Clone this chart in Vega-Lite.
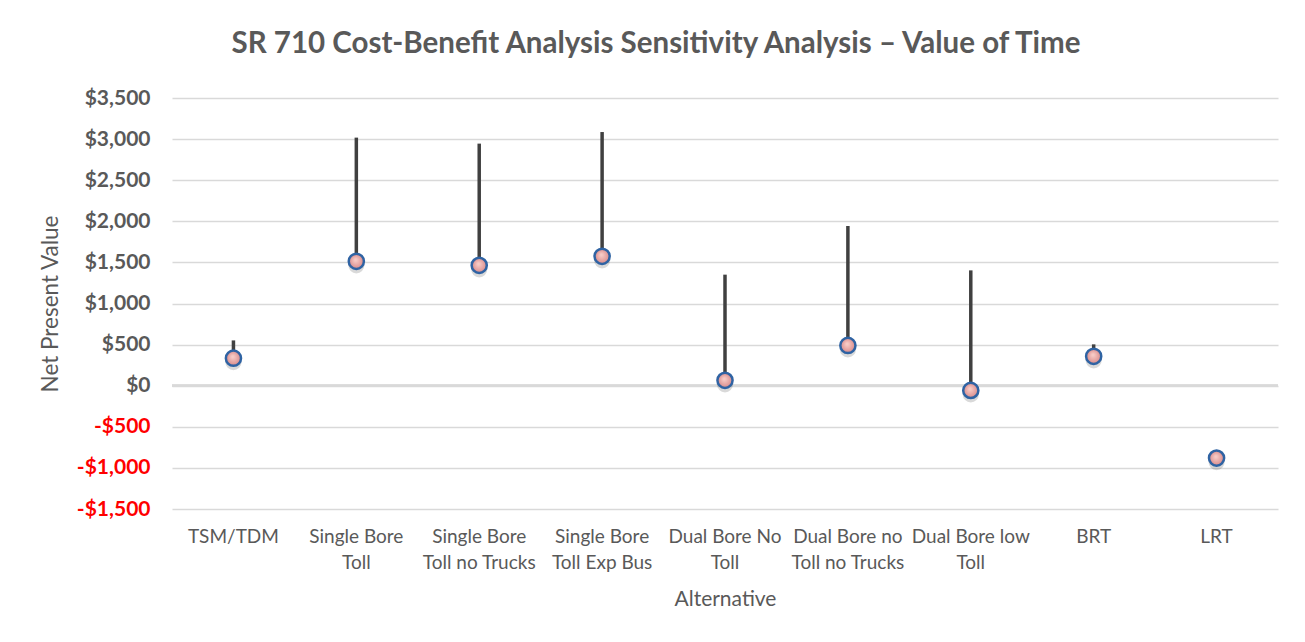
{
  "$schema": "https://vega.github.io/schema/vega-lite/v6.json",
  "autosize": "none",
  "width": 1106,
  "height": 411,
  "padding": {"left": 172, "top": 98, "right": 27, "bottom": 133},
  "background": "white",
  "title": {
    "text": "SR 710 Cost-Benefit Analysis Sensitivity Analysis – Value of Time",
    "font": "Lato",
    "fontSize": 29.5,
    "fontWeight": "bold",
    "color": "#595959",
    "anchor": "middle",
    "frame": "group",
    "dx": -69,
    "offset": 28
  },
  "data": {
    "values": [
      {"alt": "TSM/TDM", "npv": 335, "high": 551},
      {"alt": "Single Bore|Toll", "npv": 1513, "high": 3018},
      {"alt": "Single Bore|Toll no Trucks", "npv": 1464, "high": 2945},
      {"alt": "Single Bore|Toll  Exp Bus", "npv": 1574, "high": 3086},
      {"alt": "Dual Bore No|Toll", "npv": 65, "high": 1351},
      {"alt": "Dual Bore no|Toll no Trucks", "npv": 490, "high": 1943},
      {"alt": "Dual Bore low|Toll", "npv": -57, "high": 1403},
      {"alt": "BRT", "npv": 357, "high": 503},
      {"alt": "LRT", "npv": -881, "high": -881}
    ]
  },
  "encoding": {
    "x": {
      "field": "alt",
      "type": "nominal",
      "sort": null,
      "scale": {"paddingInner": 0, "paddingOuter": 0},
      "axis": {
        "title": "Alternative",
        "labelExpr": "split(datum.label, '|')",
        "labelAngle": 0,
        "labelFont": "Lato",
        "labelFontSize": 19,
        "labelColor": "#595959",
        "labelLineHeight": 26,
        "labelPadding": 18,
        "titleFont": "Lato",
        "titleFontSize": 21,
        "titleFontWeight": "normal",
        "titleColor": "#595959",
        "titlePadding": 16,
        "domain": false,
        "ticks": false,
        "grid": false
      }
    }
  },
  "layer": [
    {
      "mark": {"type": "rule", "color": "#d9d9d9", "strokeWidth": 2},
      "encoding": {"y": {"datum": 0, "type": "quantitative"}, "x": {"value": 0}, "x2": {"value": 1106}}
    },
    {
      "mark": {"type": "rule", "color": "#404040", "strokeWidth": 3.5},
      "encoding": {
        "y": {
          "field": "npv",
          "type": "quantitative",
          "scale": {"domain": [-1500, 3500], "nice": false, "zero": false},
          "axis": {
            "title": "Net Present Value",
            "values": [-1500, -1000, -500, 0, 500, 1000, 1500, 2000, 2500, 3000, 3500],
            "labelExpr": "datum.value < 0 ? '-$' + format(-datum.value, ',') : '$' + format(datum.value, ',')",
            "labelFont": "Lato",
            "labelFontSize": 21,
            "labelFontWeight": "bold",
            "labelColor": {"condition": {"test": "datum.value < 0", "value": "#ff0000"}, "value": "#595959"},
            "labelPadding": 22,
            "titleFont": "Lato",
            "titleFontSize": 22.5,
            "titleFontWeight": "normal",
            "titleColor": "#595959",
            "titlePadding": 14,
            "domain": false,
            "ticks": false,
            "tickSize": 0,
            "grid": true,
            "gridColor": "#d9d9d9",
            "gridWidth": 1.3
          }
        },
        "y2": {"field": "high"}
      }
    },
    {
      "mark": {"type": "point", "filled": true, "shape": "circle", "size": 260, "color": "#000000", "opacity": 0.15, "yOffset": 4},
      "encoding": {"y": {"field": "npv", "type": "quantitative"}}
    },
    {
      "mark": {
        "type": "point",
        "shape": "circle",
        "size": 230,
        "filled": true,
        "opacity": 1,
        "fill": {
          "gradient": "radial",
          "x1": 0.45, "y1": 0.4, "r1": 0.05,
          "x2": 0.5, "y2": 0.5, "r2": 0.5,
          "stops": [
            {"offset": 0, "color": "#f7cbc6"},
            {"offset": 1, "color": "#d88a8a"}
          ]
        },
        "stroke": "#2f63a3",
        "strokeWidth": 2.5
      },
      "encoding": {"y": {"field": "npv", "type": "quantitative"}}
    }
  ],
  "config": {"view": {"stroke": null}}
}
